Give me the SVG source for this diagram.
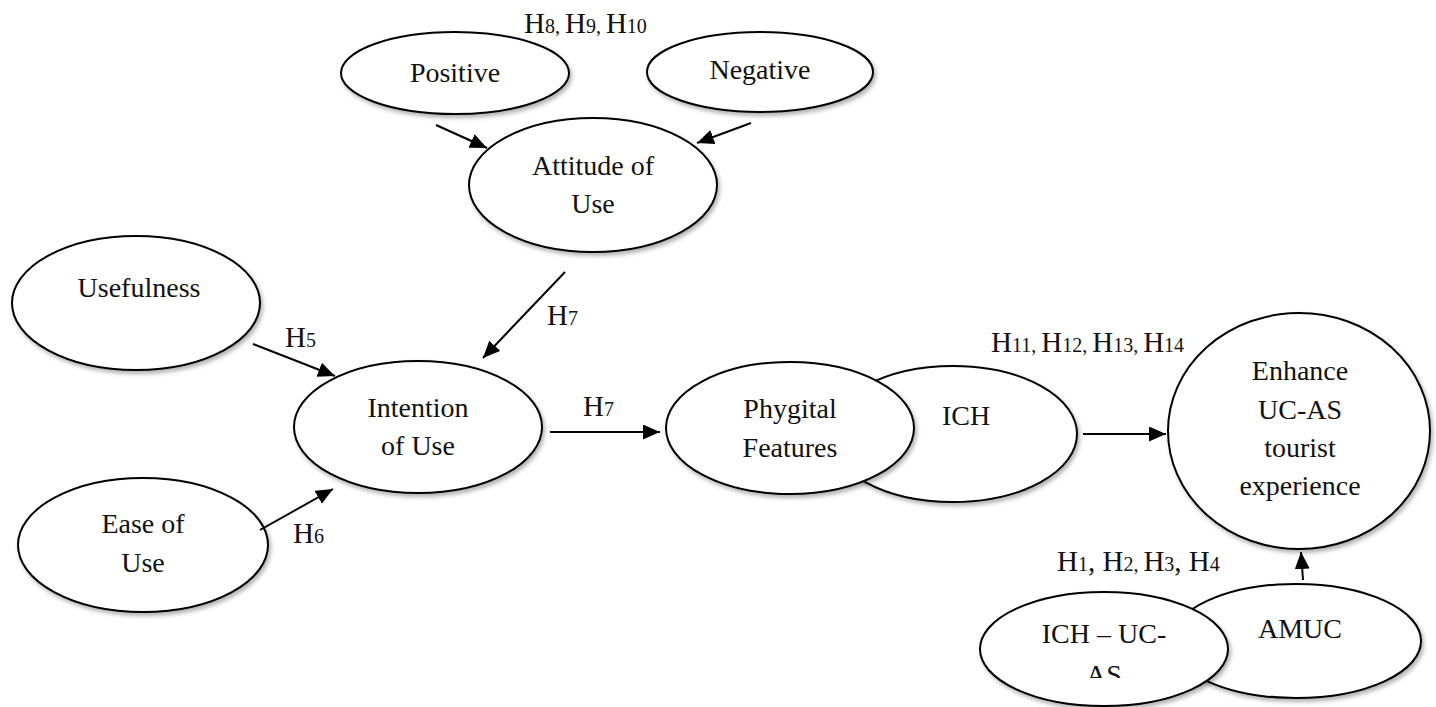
<svg xmlns="http://www.w3.org/2000/svg" width="1436" height="707" viewBox="0 0 1436 707">
<defs>
<style>
.n{fill:#fff;stroke:#000;stroke-width:2;filter:url(#sh)}
.t{font-family:"Liberation Serif","Times New Roman",serif;font-size:28px;fill:#111;text-anchor:middle}
.l{font-family:"Liberation Serif","Times New Roman",serif;font-size:29px;fill:#111}
.s{font-size:20px}
.c line{stroke:#000;stroke-width:2;marker-end:url(#ah)}
</style>
<filter id="sh" x="-10%" y="-10%" width="125%" height="130%">
<feDropShadow dx="2" dy="3" stdDeviation="2" flood-color="#000" flood-opacity="0.3"/>
</filter>
<marker id="ah" markerUnits="userSpaceOnUse" markerWidth="18" markerHeight="16" refX="17" refY="7.5" orient="auto">
<path d="M0,0 L17,7.5 L0,15 Z" fill="#000"/>
</marker>
<clipPath id="clipAS"><rect x="980" y="600" width="250" height="78"/></clipPath>
</defs>
<rect width="1436" height="707" fill="#fff"/>

<g id="positive"><ellipse class="n" cx="455" cy="73" rx="114" ry="41"/><text class="t" x="455" y="82">Positive</text></g>
<g id="negative"><ellipse class="n" cx="760" cy="72" rx="113" ry="40"/><text class="t" x="760" y="79">Negative</text></g>
<g id="attitude"><ellipse class="n" cx="593" cy="185" rx="124" ry="67"/><text class="t" x="593" y="175">Attitude of</text><text class="t" x="593" y="213">Use</text></g>
<g id="usefulness"><ellipse class="n" cx="136" cy="303" rx="124" ry="67"/><text class="t" x="139" y="297">Usefulness</text></g>
<g id="ease"><ellipse class="n" cx="143" cy="545" rx="125" ry="67"/><text class="t" x="143" y="533">Ease of</text><text class="t" x="143" y="572">Use</text></g>
<g id="intention"><ellipse class="n" cx="418" cy="427" rx="124" ry="66"/><text class="t" x="418" y="417">Intention</text><text class="t" x="418" y="455">of Use</text></g>
<g id="ich"><ellipse class="n" cx="953" cy="434" rx="124" ry="68"/><text class="t" x="966" y="425">ICH</text></g>
<g id="phygital"><ellipse class="n" cx="790" cy="428" rx="124" ry="66"/><text class="t" x="790" y="418">Phygital</text><text class="t" x="790" y="457">Features</text></g>
<g id="enhance"><ellipse class="n" cx="1299" cy="431" rx="131" ry="118"/><text class="t" x="1300" y="380">Enhance</text><text class="t" x="1300" y="419">UC-AS</text><text class="t" x="1300" y="457">tourist</text><text class="t" x="1300" y="495">experience</text></g>
<g id="amuc"><ellipse class="n" cx="1296" cy="641" rx="125" ry="57"/><text class="t" x="1300" y="638">AMUC</text></g>
<g id="ich-ucas"><ellipse class="n" cx="1104" cy="649" rx="124" ry="57"/><text class="t" x="1104" y="643">ICH – UC-</text><text class="t" x="1104" y="684" clip-path="url(#clipAS)">AS</text></g>

<g id="connectors" class="c">
<line x1="436" y1="125" x2="487" y2="148"/>
<line x1="751" y1="123" x2="697" y2="143"/>
<line x1="565" y1="272" x2="483" y2="358"/>
<line x1="253" y1="344" x2="335" y2="376"/>
<line x1="260" y1="530" x2="333" y2="489"/>
<line x1="550" y1="432" x2="660" y2="432"/>
<line x1="1083" y1="434" x2="1166" y2="434"/>
<line x1="1303" y1="580" x2="1301" y2="552"/>
</g>

<g id="labels">
<text class="l" x="524" y="33">H<tspan class="s">8, </tspan>H<tspan class="s">9, </tspan>H<tspan class="s">10</tspan></text>
<text class="l" x="991" y="352">H<tspan class="s">11, </tspan>H<tspan class="s">12, </tspan>H<tspan class="s">13, </tspan>H<tspan class="s">14</tspan></text>
<text class="l" x="1057" y="571">H<tspan class="s">1</tspan>,  H<tspan class="s">2, </tspan>H<tspan class="s">3</tspan>,  H<tspan class="s">4</tspan></text>
<text class="l" x="285" y="347">H<tspan class="s">5</tspan></text>
<text class="l" x="293" y="543">H<tspan class="s">6</tspan></text>
<text class="l" x="547" y="325">H<tspan class="s">7</tspan></text>
<text class="l" x="583" y="416">H<tspan class="s">7</tspan></text>
</g>
</svg>
